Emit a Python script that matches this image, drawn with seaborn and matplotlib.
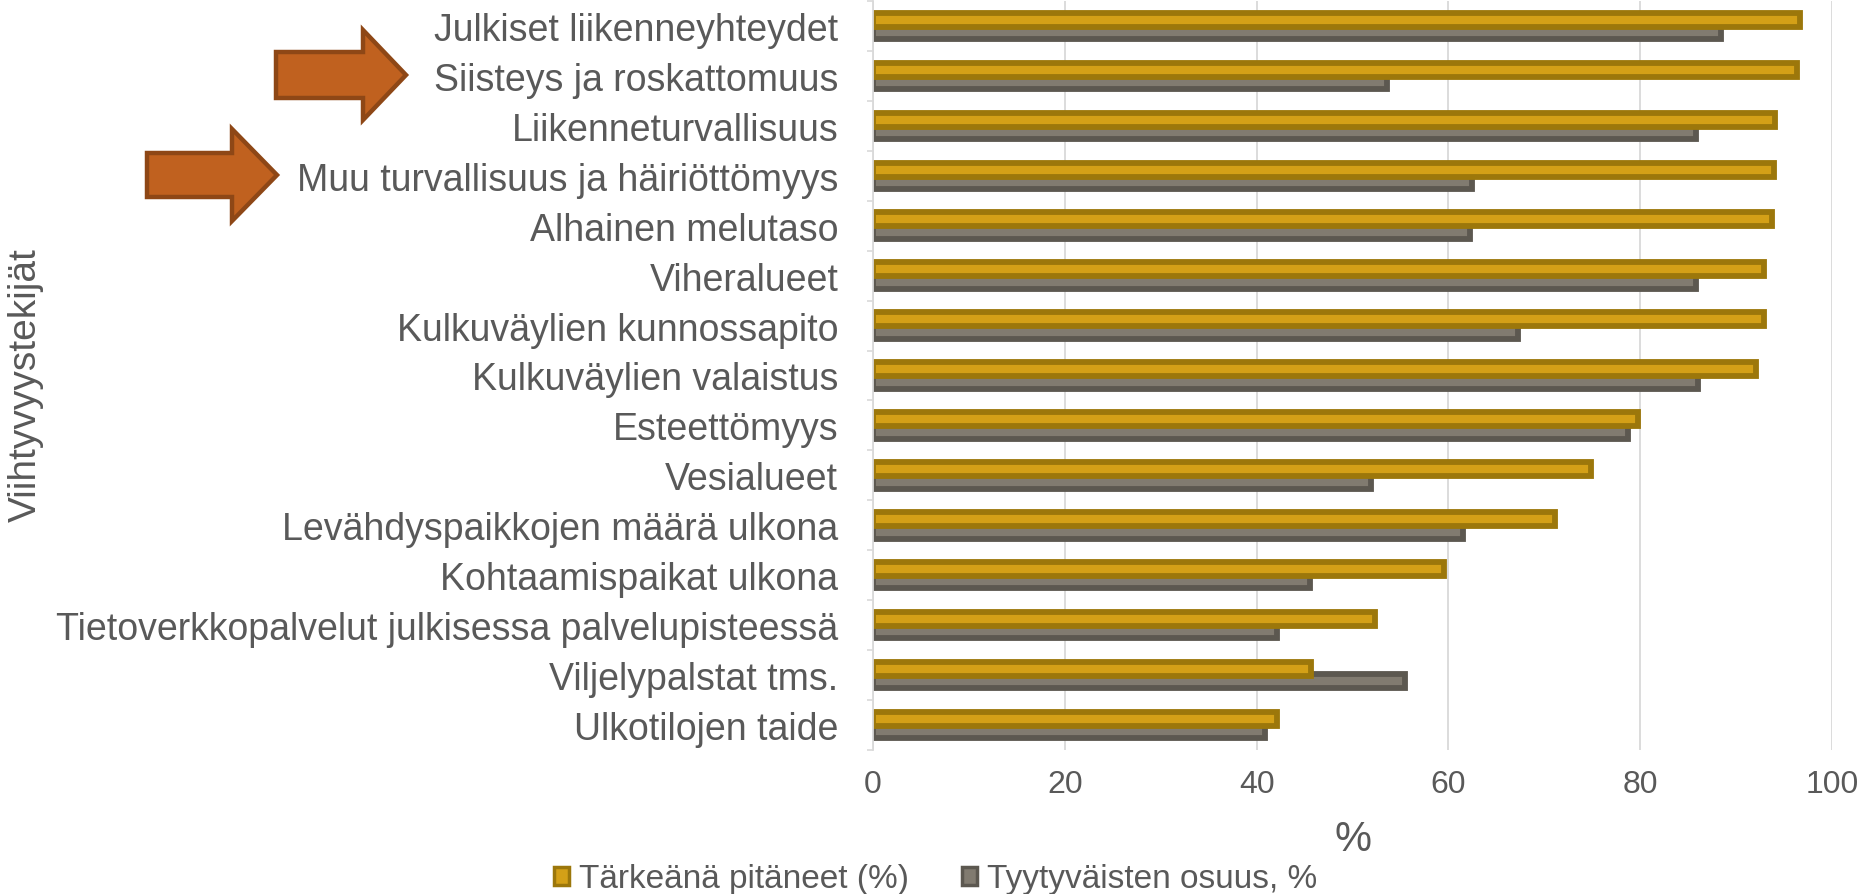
import numpy as np
import matplotlib
matplotlib.use("Agg")
import matplotlib.pyplot as plt
from matplotlib.patches import Patch, Polygon
import seaborn as sns

# Chart data
categories = [
    "Julkiset liikenneyhteydet", "Siisteys ja roskattomuus", "Liikenneturvallisuus",
    "Muu turvallisuus ja häiriöttömyys", "Alhainen melutaso", "Viheralueet",
    "Kulkuväylien kunnossapito", "Kulkuväylien valaistus", "Esteettömyys",
    "Vesialueet", "Levähdyspaikkojen määrä ulkona", "Kohtaamispaikat ulkona",
    "Tietoverkkopalvelut julkisessa palvelupisteessä", "Viljelypalstat tms.",
    "Ulkotilojen taide",
]
important = [96.7, 96.4, 94.1, 94.0, 93.7, 92.9, 92.9, 92.1, 79.8, 74.9, 71.1, 59.5, 52.3, 45.7, 42.1]
satisfied = [88.4, 53.6, 85.8, 62.5, 62.3, 85.8, 67.3, 86.0, 78.7, 51.9, 61.5, 45.6, 42.1, 55.5, 40.9]
series_names = ["Tärkeänä pitäneet (%)", "Tyytyväisten osuus, %"]
x_ticks = [0, 20, 40, 60, 80, 100]

sns.set_theme(style="white")
plt.rcParams["font.family"] = ["Liberation Sans", "DejaVu Sans"]
text_col = "#595959"
gold, gold_edge = "#D4A017", "#9C770B"
grey, grey_edge = "#817B70", "#5C5850"

fig = plt.figure(figsize=(18.64, 8.95), dpi=100)
ax = fig.add_axes([873 / 1864, 1 - 751 / 895, (1832 - 873) / 1864, (751 - 2) / 895])

pos = np.arange(len(categories))
bar_h = 0.28
sns.barplot(x=satisfied, y=pos + 0.125, orient="y", native_scale=True, width=bar_h,
            color=grey, saturation=1, errorbar=None, edgecolor=grey_edge, linewidth=4.2, ax=ax)
sns.barplot(x=important, y=pos - 0.125, orient="y", native_scale=True, width=bar_h,
            color=gold, saturation=1, errorbar=None, edgecolor=gold_edge, linewidth=4.2, ax=ax)

ax.set_xlim(0, 100)
ax.set_ylim(len(categories) - 0.5, -0.5)
ax.set_xticks(x_ticks)
ax.set_xticklabels([str(t) for t in x_ticks])
ax.set_yticks(pos)
ax.set_yticklabels(categories)
ax.set_yticks(np.arange(-0.5, len(categories), 1), minor=True)
ax.tick_params(axis="y", which="major", length=0, pad=25, labelsize=27, labelcolor=text_col)
ax.tick_params(axis="y", which="minor", length=4, width=1.2, color="#D9D9D9", left=True)
ax.tick_params(axis="x", length=0, pad=14, labelsize=23, labelcolor=text_col)

ax.set_axisbelow(True)
ax.xaxis.grid(True, color="#D9D9D9", linewidth=1.3)
ax.yaxis.grid(False)
for side in ["top", "right", "bottom"]:
    ax.spines[side].set_visible(False)
ax.spines["left"].set_color("#D9D9D9")
ax.spines["left"].set_linewidth(1.3)

ax.set_xlabel("%", fontsize=30, color=text_col, labelpad=14)
ax.set_ylabel("")
fig.text(26 / 1864, 1 - 385 / 895, "Viihtyvyystekijät", rotation=90, fontsize=28,
         color=text_col, ha="center", va="center")

handles = [Patch(facecolor=gold, edgecolor=gold_edge, linewidth=2.5),
           Patch(facecolor=grey, edgecolor=grey_edge, linewidth=2.5)]
fig.legend(handles, series_names, loc="center", bbox_to_anchor=(0.502, 1 - 880 / 895),
           ncol=2, frameon=False, fontsize=24, labelcolor=text_col,
           handlelength=0.45, handleheight=0.45, handletextpad=0.3, columnspacing=1.6)

# highlight arrows (pixel geometry: tail, tip, head base, centre y, body half, head half)
def arrow(tail, tip, base, cy, bh, hh):
    pts = [(tail, cy - bh), (base, cy - bh), (base, cy - hh), (tip, cy),
           (base, cy + hh), (base, cy + bh), (tail, cy + bh)]
    pts = [(x / 1864, 1 - y / 895) for x, y in pts]
    fig.patches.append(Polygon(pts, closed=True, transform=fig.transFigure,
                               facecolor="#C0611F", edgecolor="#8E4716", linewidth=3.2,
                               joinstyle="miter"))

arrow(276, 406, 363, 76, 23, 45)
arrow(147, 277, 232, 176, 22, 46)

fig.savefig("out.png", dpi=100)
